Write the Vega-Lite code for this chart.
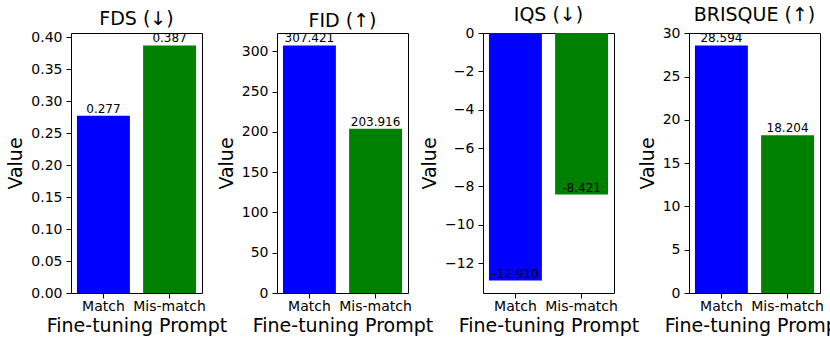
{
  "$schema": "https://vega.github.io/schema/vega-lite/v6.json",
  "padding": {"left": 6, "top": 5, "right": 0, "bottom": 0},
  "data": {"values": [
    {"metric": "FDS", "prompt": "Match", "value": 0.277, "label": "0.277"},
    {"metric": "FDS", "prompt": "Mis-match", "value": 0.387, "label": "0.387"},
    {"metric": "FID", "prompt": "Match", "value": 307.421, "label": "307.421"},
    {"metric": "FID", "prompt": "Mis-match", "value": 203.916, "label": "203.916"},
    {"metric": "IQS", "prompt": "Match", "value": -12.91, "label": "-12.910"},
    {"metric": "IQS", "prompt": "Mis-match", "value": -8.421, "label": "-8.421"},
    {"metric": "BRISQUE", "prompt": "Match", "value": 28.594, "label": "28.594"},
    {"metric": "BRISQUE", "prompt": "Mis-match", "value": 18.204, "label": "18.204"}
  ]},
  "spacing": 75,
  "bounds": "flush",
  "resolve": {"scale": {"y": "independent", "x": "independent"}},
  "hconcat": [
    {
      "title": "FDS (↓)",
      "width": 131, "height": 260,
      "transform": [{"filter": "datum.metric === 'FDS'"}],
      "encoding": {
        "x": {"field": "prompt", "type": "nominal", "sort": ["Match", "Mis-match"], "scale": {"paddingInner": 0.2, "paddingOuter": 0.09}, "axis": {"title": "Fine-tuning Prompt"}},
        "y": {"field": "value", "type": "quantitative", "scale": {"domain": [0, 0.40635], "nice": false}, "axis": {"title": "Value", "values": [0, 0.05, 0.1, 0.15, 0.2, 0.25, 0.3, 0.35, 0.4], "format": ".2f"}}
      },
      "layer": [
        {"mark": {"type": "bar"}, "encoding": {"color": {"field": "prompt", "type": "nominal", "scale": {"domain": ["Match", "Mis-match"], "range": ["#0000ff", "#008000"]}, "legend": null}}},
        {"mark": {"type": "text", "baseline": "bottom", "fontSize": 12, "color": "black"}, "encoding": {"text": {"field": "label", "type": "nominal"}}}
      ]
    },
    {
      "title": "FID (↑)",
      "width": 131, "height": 260,
      "transform": [{"filter": "datum.metric === 'FID'"}],
      "encoding": {
        "x": {"field": "prompt", "type": "nominal", "sort": ["Match", "Mis-match"], "scale": {"paddingInner": 0.2, "paddingOuter": 0.09}, "axis": {"title": "Fine-tuning Prompt"}},
        "y": {"field": "value", "type": "quantitative", "scale": {"domain": [0, 322.79], "nice": false}, "axis": {"title": "Value", "values": [0, 50, 100, 150, 200, 250, 300], "format": "d"}}
      },
      "layer": [
        {"mark": {"type": "bar"}, "encoding": {"color": {"field": "prompt", "type": "nominal", "scale": {"domain": ["Match", "Mis-match"], "range": ["#0000ff", "#008000"]}, "legend": null}}},
        {"mark": {"type": "text", "baseline": "bottom", "fontSize": 12, "color": "black"}, "encoding": {"text": {"field": "label", "type": "nominal"}}}
      ]
    },
    {
      "title": "IQS (↓)",
      "width": 131, "height": 260,
      "transform": [{"filter": "datum.metric === 'IQS'"}],
      "encoding": {
        "x": {"field": "prompt", "type": "nominal", "sort": ["Match", "Mis-match"], "scale": {"paddingInner": 0.2, "paddingOuter": 0.09}, "axis": {"title": "Fine-tuning Prompt"}},
        "y": {"field": "value", "type": "quantitative", "scale": {"domain": [-13.5555, 0], "nice": false}, "axis": {"title": "Value", "values": [-12, -10, -8, -6, -4, -2, 0], "format": "d"}}
      },
      "layer": [
        {"mark": {"type": "bar"}, "encoding": {"color": {"field": "prompt", "type": "nominal", "scale": {"domain": ["Match", "Mis-match"], "range": ["#0000ff", "#008000"]}, "legend": null}}},
        {"mark": {"type": "text", "baseline": "bottom", "fontSize": 12, "color": "black"}, "encoding": {"text": {"field": "label", "type": "nominal"}}}
      ]
    },
    {
      "title": "BRISQUE (↑)",
      "width": 131, "height": 260,
      "transform": [{"filter": "datum.metric === 'BRISQUE'"}],
      "encoding": {
        "x": {"field": "prompt", "type": "nominal", "sort": ["Match", "Mis-match"], "scale": {"paddingInner": 0.2, "paddingOuter": 0.09}, "axis": {"title": "Fine-tuning Prompt"}},
        "y": {"field": "value", "type": "quantitative", "scale": {"domain": [0, 30.024], "nice": false}, "axis": {"title": "Value", "values": [0, 5, 10, 15, 20, 25, 30], "format": "d"}}
      },
      "layer": [
        {"mark": {"type": "bar"}, "encoding": {"color": {"field": "prompt", "type": "nominal", "scale": {"domain": ["Match", "Mis-match"], "range": ["#0000ff", "#008000"]}, "legend": null}}},
        {"mark": {"type": "text", "baseline": "bottom", "fontSize": 12, "color": "black"}, "encoding": {"text": {"field": "label", "type": "nominal"}}}
      ]
    }
  ],
  "config": {
    "font": "DejaVu Sans",
    "view": {"stroke": "black", "strokeWidth": 1},
    "axis": {"grid": false, "domain": false, "tickColor": "black", "tickSize": 5, "tickWidth": 1, "labelFontSize": 14, "labelColor": "black", "titleFontSize": 19, "titleFontWeight": "normal", "titleColor": "black", "labelFont": "DejaVu Sans", "titleFont": "DejaVu Sans"},
    "axisX": {"labelAngle": 0, "labelPadding": 1.5, "titlePadding": 2.5},
    "axisY": {"labelPadding": 4, "titlePadding": 5},
    "title": {"fontSize": 19, "fontWeight": "normal", "font": "DejaVu Sans", "color": "black", "anchor": "middle", "offset": 1}
  }
}
